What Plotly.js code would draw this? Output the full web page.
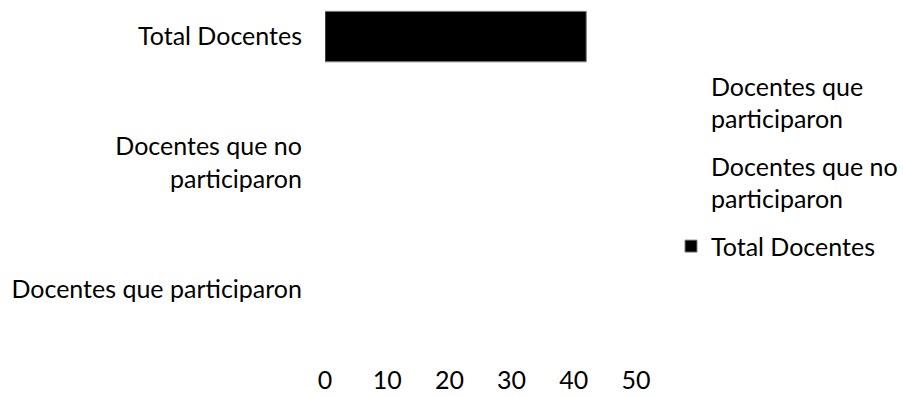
<!DOCTYPE html>
<html>
<head>
<meta charset="utf-8">
<script src="https://cdn.plot.ly/plotly-3.0.1.min.js"></script>
<style>html,body{margin:0;padding:0;background:#fff}#chart{width:903px;height:398px}</style>
</head>
<body>
<div id="chart"></div>
<script>
const categories = ["Docentes que participaron", "Docentes que no<br>participaron", "Total Docentes"];
const seriesNames = ["Docentes que<br>participaron", "Docentes que no<br>participaron", "Total Docentes"];
const participaron = [0, null, null];
const noParticiparon = [null, 0, null];
const totalDocentes = [null, null, 42];
const xTicks = [0, 10, 20, 30, 40, 50];

const FONT = "Lato, 'Open Sans', sans-serif";
const FS = 25;

const traces = [
  {type: "bar", orientation: "h", name: seriesNames[0], legendgroup: "a", y: categories, x: participaron,
   marker: {color: "rgba(255,255,255,0)", line: {width: 0}}},
  {type: "bar", orientation: "h", name: seriesNames[1], legendgroup: "b", y: categories, x: noParticiparon,
   marker: {color: "rgba(255,255,255,0)", line: {width: 0}}},
  {type: "bar", orientation: "h", name: seriesNames[2], legendgroup: "c", y: categories, x: totalDocentes,
   marker: {color: "#000000", line: {color: "#7f7f7f", width: 1}}}
];

const layout = {
  width: 903, height: 398,
  margin: {l: 325, r: 264, t: 0, b: 46, pad: 0},
  paper_bgcolor: "#ffffff", plot_bgcolor: "#ffffff",
  font: {family: FONT, size: FS, color: "#000000"},
  barmode: "overlay",
  bargap: 0.6,
  showlegend: true,
  legend: {
    x: 1.114, xanchor: "left", y: 0.82, yanchor: "top",
    traceorder: "grouped", font: {family: FONT, size: FS, color: "#000"},
    itemwidth: 30, tracegroupgap: 12, bgcolor: "rgba(0,0,0,0)"
  },
  xaxis: {
    range: [0, 50], tickvals: xTicks, ticktext: xTicks.map(String),
    showgrid: false, zeroline: false, showline: false, ticks: "",
    ticklabelstandoff: 11, tickfont: {family: FONT, size: FS, color: "#000"},
    fixedrange: true
  },
  yaxis: {
    type: "category", categoryorder: "array", categoryarray: categories,
    range: [-0.5, 2.29], showgrid: false, zeroline: false, showline: false, ticks: "",
    ticklabelstandoff: 22, tickfont: {family: FONT, size: FS, color: "#000"},
    fixedrange: true
  }
};

Plotly.newPlot("chart", traces, layout, {displayModeBar: false, staticPlot: true});
</script>
</body>
</html>
